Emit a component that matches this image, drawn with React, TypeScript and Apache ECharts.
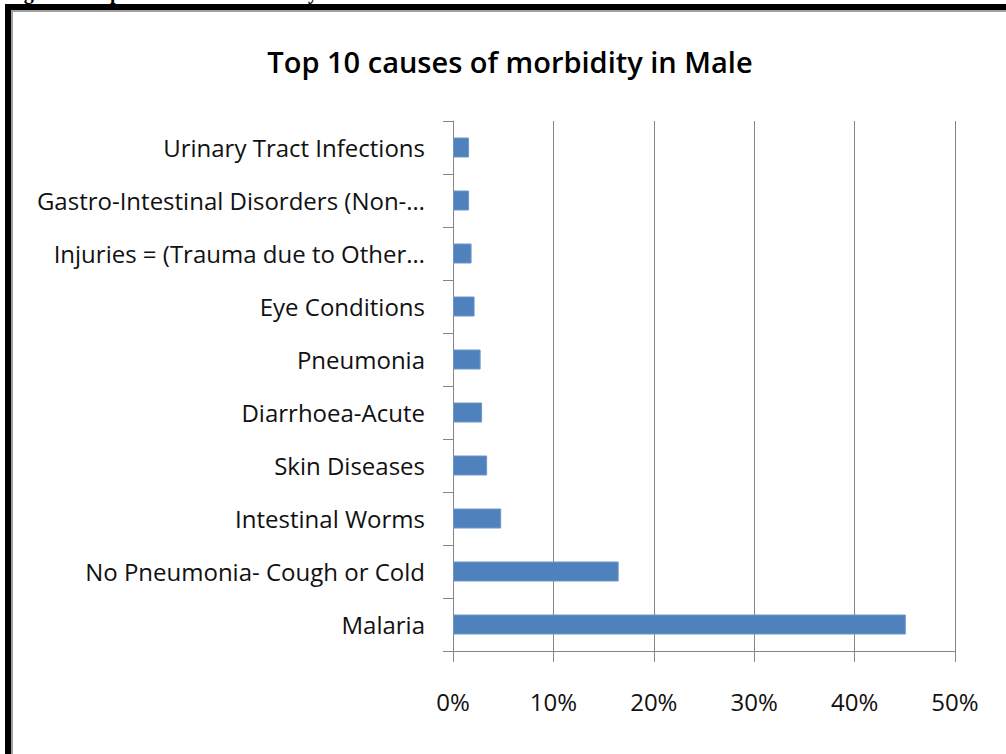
import React, { useEffect, useRef } from "react";
import * as echarts from "echarts";

const categories = [
  "Malaria",
  "No Pneumonia- Cough or Cold",
  "Intestinal Worms",
  "Skin Diseases",
  "Diarrhoea-Acute",
  "Pneumonia",
  "Eye Conditions",
  "Injuries = (Trauma due to Other…",
  "Gastro-Intestinal Disorders (Non-…",
  "Urinary Tract Infections",
];
const values = [45.1, 16.5, 4.8, 3.4, 2.9, 2.75, 2.15, 1.85, 1.6, 1.6];
const xTicks = [0, 10, 20, 30, 40, 50];
const title = "Top 10 causes of morbidity in Male";
const caption = "Figure 4: Top 10 causes of morbidity in Male";

const FONT = "'Open Sans', 'Noto Sans', sans-serif";

export default function App() {
  const ref = useRef<HTMLDivElement>(null);
  useEffect(() => {
    if (!ref.current) return;
    const chart = echarts.init(ref.current, undefined, { renderer: "svg" });
    chart.setOption({
      animation: false,
      backgroundColor: "transparent",
      graphic: [
        {
          type: "text",
          x: 510,
          y: 61,
          style: {
            text: title,
            font: `600 29px ${FONT}`,
            fill: "#000",
            textAlign: "center",
            textVerticalAlign: "middle",
          },
        },
      ],
      grid: { left: 453, top: 121, width: 502, height: 530, containLabel: false },
      xAxis: {
        type: "value",
        min: xTicks[0],
        max: xTicks[xTicks.length - 1],
        interval: 10,
        axisLine: { show: true, lineStyle: { color: "#868686", width: 1 } },
        axisTick: { show: true, length: 11, inside: false, lineStyle: { color: "#868686" } },
        splitLine: { show: true, lineStyle: { color: "#868686", width: 1 } },
        axisLabel: {
          formatter: "{value}%",
          color: "#111",
          fontFamily: FONT,
          fontSize: 24,
          margin: 38,
        },
      },
      yAxis: {
        type: "category",
        data: categories,
        axisLine: { show: true, lineStyle: { color: "#868686", width: 1 } },
        axisTick: { show: true, length: 10, inside: false, lineStyle: { color: "#868686" } },
        axisLabel: {
          color: "#111",
          fontFamily: FONT,
          fontSize: 24,
          margin: 28,
        },
      },
      series: [
        {
          type: "bar",
          data: values,
          barWidth: 20,
          itemStyle: { color: "#4F81BD", borderColor: "#6E97C8", borderWidth: 1 },
        },
      ],
    });
    return () => chart.dispose();
  }, []);

  return (
    <div
      style={{
        position: "fixed",
        left: 0,
        top: 0,
        width: 1006,
        height: 754,
        background: "#fff",
        overflow: "hidden",
      }}
    >
      <div
        style={{
          position: "absolute",
          left: 0,
          top: 0,
          width: 1006,
          height: 4,
          overflow: "hidden",
        }}
      >
        <div
          style={{
            position: "absolute",
            left: 6,
            top: -19,
            font: "bold 20px 'Liberation Serif', 'DejaVu Serif', serif",
            whiteSpace: "nowrap",
            color: "#000",
          }}
        >
          {caption}
        </div>
      </div>
      <div
        style={{
          position: "absolute",
          left: 5,
          top: 4,
          width: 1006,
          height: 760,
          borderLeft: "6px solid #000",
          borderTop: "6px solid #000",
        }}
      />
      <div
        style={{
          position: "absolute",
          left: 11,
          top: 10,
          width: 1006,
          height: 743,
          borderLeft: "2px solid #a0a0a0",
          borderTop: "2px solid #a0a0a0",
          borderBottom: "1px solid #bdbdbd",
        }}
      />
      <div
        ref={ref}
        style={{ position: "absolute", left: 0, top: 0, width: 1006, height: 754 }}
      />
    </div>
  );
}
